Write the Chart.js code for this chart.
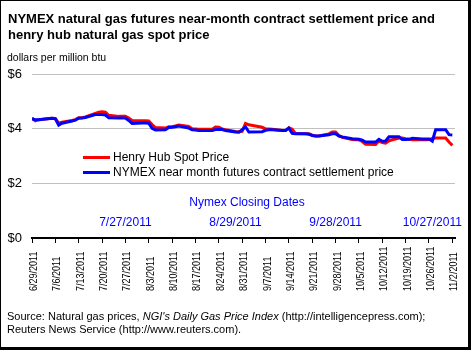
<!DOCTYPE html>
<html>
<head>
<meta charset="utf-8">
<title>NYMEX natural gas futures and Henry Hub spot price</title>
<script src="https://cdn.jsdelivr.net/npm/chart.js@4.4.1/dist/chart.umd.min.js"></script>
<style>
    html, body { margin: 0; padding: 0; background: #ffffff; }
    .wrap { position: relative; width: 471px; height: 350px; }
    .wrap canvas { position: absolute; left: 0; top: 0; }
    .frame {
        position: absolute; left: 0; top: 0; width: 471px; height: 350px;
        box-sizing: border-box; border: solid #000; border-width: 1px 3px 3px 1px;
        pointer-events: none;
    }
</style>
</head>
<body>
<div class="wrap">
    <canvas id="gaschart" width="471" height="350"></canvas>
    <div class="frame"></div>
</div>
<script>
"use strict";

/* trading days, 2011 */
var tradeDates = [
    '6/29', '6/30', '7/1',
    '7/5', '7/6', '7/7', '7/8',
    '7/11', '7/12', '7/13', '7/14', '7/15',
    '7/18', '7/19', '7/20', '7/21', '7/22',
    '7/25', '7/26', '7/27', '7/28', '7/29',
    '8/1', '8/2', '8/3', '8/4', '8/5',
    '8/8', '8/9', '8/10', '8/11', '8/12',
    '8/15', '8/16', '8/17', '8/18', '8/19',
    '8/22', '8/23', '8/24', '8/25', '8/26',
    '8/29', '8/30', '8/31', '9/1', '9/2',
    '9/6', '9/7', '9/8', '9/9',
    '9/12', '9/13', '9/14', '9/15', '9/16',
    '9/19', '9/20', '9/21', '9/22', '9/23',
    '9/26', '9/27', '9/28', '9/29', '9/30',
    '10/3', '10/4', '10/5', '10/6', '10/7',
    '10/10', '10/11', '10/12', '10/13', '10/14',
    '10/17', '10/18', '10/19', '10/20', '10/21',
    '10/24', '10/25', '10/26', '10/27', '10/28',
    '10/31', '11/1', '11/2'
];

/* Henry Hub spot, $/MMBtu */
var henryHub = [
    4.39, 4.29, 4.33,
    4.38, 4.37, 4.20, 4.24,
    4.30, 4.33, 4.40, 4.40, 4.43,
    4.56, 4.60, 4.62, 4.60, 4.49,
    4.45, 4.45, 4.45, 4.39, 4.30,
    4.29, 4.29, 4.28, 4.15, 4.04,
    4.02, 4.07, 4.07, 4.10, 4.13,
    4.08, 4.00, 3.99, 3.98, 3.98,
    3.98, 4.06, 4.05, 3.99, 3.96,
    3.90, 3.89, 3.90, 4.19, 4.14,
    4.05, 3.99, 3.99, 3.98,
    3.93, 3.93, 4.03, 3.98, 3.82,
    3.81, 3.81, 3.76, 3.73, 3.73,
    3.81, 3.88, 3.88, 3.75, 3.68,
    3.60, 3.59, 3.59, 3.53, 3.43,
    3.42, 3.55, 3.49, 3.47, 3.56,
    3.66, 3.66, 3.63, 3.61, 3.59,
    3.59, 3.59, 3.60, 3.64, 3.66,
    3.66, 3.51, 3.39
];

/* NYMEX near-month settlement, $/MMBtu */
var nymexNear = [
    4.35, 4.33, 4.33,
    4.38, 4.36, 4.13, 4.20,
    4.28, 4.31, 4.38, 4.39, 4.41,
    4.52, 4.52, 4.52, 4.50, 4.40,
    4.39, 4.39, 4.39, 4.30, 4.19,
    4.21, 4.21, 4.20, 4.01, 3.95,
    3.96, 4.04, 4.05, 4.07, 4.10,
    4.02, 3.96, 3.95, 3.93, 3.93,
    3.93, 3.97, 3.97, 3.97, 3.93,
    3.88, 3.87, 3.96, 4.07, 3.88,
    3.89, 3.94, 3.96, 3.96,
    3.93, 3.93, 4.02, 3.83, 3.81,
    3.81, 3.80, 3.75, 3.73, 3.73,
    3.78, 3.81, 3.81, 3.73, 3.70,
    3.63, 3.62, 3.61, 3.58, 3.51,
    3.51, 3.61, 3.54, 3.55, 3.70,
    3.70, 3.60, 3.60, 3.61, 3.65,
    3.62, 3.62, 3.62, 3.54, 3.96,
    3.96, 3.78, 3.77
];

var weekLabels = [
    '6/29/2011', '7/6/2011', '7/13/2011', '7/20/2011', '7/27/2011',
    '8/3/2011', '8/10/2011', '8/17/2011', '8/24/2011', '8/31/2011',
    '9/7/2011', '9/14/2011', '9/21/2011', '9/28/2011', '10/5/2011',
    '10/12/2011', '10/19/2011', '10/26/2011', '11/2/2011'
];
var closingDates = ['7/27/2011', '8/29/2011', '9/28/2011', '10/27/2011'];
var seriesNames = ['Henry Hub Spot Price', 'NYMEX near month futures contract settlement price'];

var fontFamily = '"Liberation Sans", Arial, sans-serif';

/* days since 6/29/2011 */
function dayOf(label) {
    var p = label.split('/');
    var year = p[2] ? +p[2] : 2011;
    return (Date.UTC(year, p[0] - 1, +p[1]) - Date.UTC(2011, 5, 29)) / 86400000;
}

function points(values) {
    return values.map(function (v, i) {
        return { x: dayOf(tradeDates[i]), y: v };
    });
}

/* titles, legend in the plot, closing dates, rotated dates, source */
var gasText = {
    id: 'gasText',
    afterDraw: function (chart) {
        var ctx = chart.ctx;
        var xs = chart.scales.x;
        ctx.save();

        ctx.fillStyle = '#000';
        ctx.textAlign = 'left';
        ctx.textBaseline = 'alphabetic';
        ctx.font = 'bold 13px ' + fontFamily;
        ctx.fillText('NYMEX natural gas futures near-month contract settlement price and', 8, 23);
        ctx.fillText('henry hub natural gas spot price', 8, 38.5);
        ctx.font = '10.5px ' + fontFamily;
        ctx.fillText('dollars per million btu', 7, 60.5);

        /* legend */
        ctx.textBaseline = 'middle';
        ctx.font = '12px ' + fontFamily;
        var colors = ['#ff0000', '#0000ff'];
        var rows = [157.5, 172.5];
        for (var i = 0; i < 2; i++) {
            ctx.strokeStyle = colors[i];
            ctx.lineWidth = 3;
            ctx.beginPath();
            ctx.moveTo(83, rows[i]);
            ctx.lineTo(110, rows[i]);
            ctx.stroke();
            ctx.fillStyle = '#000';
            ctx.fillText(seriesNames[i], 113, rows[i]);
        }

        /* nymex closing dates */
        ctx.fillStyle = '#0000ff';
        ctx.textAlign = 'center';
        ctx.fillText('Nymex Closing Dates', 247, 203);
        closingDates.forEach(function (d) {
            ctx.fillText(d, xs.getPixelForValue(dayOf(d)), 223);
        });

        /* week labels, read bottom to top, a little condensed */
        ctx.fillStyle = '#000';
        ctx.textAlign = 'left';
        ctx.font = '11px ' + fontFamily;
        weekLabels.forEach(function (l) {
            ctx.save();
            ctx.translate(xs.getPixelForValue(dayOf(l)) + 2, 291);
            ctx.rotate(-Math.PI / 2);
            ctx.scale(0.82, 1);
            ctx.fillText(l, 0, 0);
            ctx.restore();
        });

        /* source */
        ctx.font = '11px ' + fontFamily;
        var x = 7;
        var part = 'Source: Natural gas prices, ';
        ctx.fillText(part, x, 316.5);
        x += ctx.measureText(part).width;
        ctx.font = 'italic 11px ' + fontFamily;
        part = "NGI's Daily Gas Price Index";
        ctx.fillText(part, x, 316.5);
        x += ctx.measureText(part).width;
        ctx.font = '11px ' + fontFamily;
        ctx.fillText(' (http://intelligencepress.com);', x, 316.5);
        ctx.fillText('Reuters News Service (http://www.reuters.com).', 7, 330);

        ctx.restore();
    }
};

document.addEventListener("DOMContentLoaded", function () {
    var gasCanvas = document.getElementById('gaschart').getContext('2d');

    var gasChartConfig = {
        type: 'line',
        data: {
            datasets: [{
                label: seriesNames[0],
                data: points(henryHub),
                borderColor: '#ff0000',
                borderWidth: 3,
                pointRadius: 0,
                fill: false,
                tension: 0,
                order: 2,
            },
            {
                label: seriesNames[1],
                data: points(nymexNear),
                borderColor: '#0000ff',
                borderWidth: 3,
                pointRadius: 0,
                fill: false,
                tension: 0,
                order: 1,
            }]
        },
        options: {
            responsive: false,
            animation: false,
            layout: {
                padding: { left: 0, right: 16, top: 74, bottom: 52 }
            },
            plugins: {
                legend: { display: false },
                tooltip: { enabled: false },
            },
            scales: {
                x: {
                    type: 'linear',
                    min: 0,
                    max: 126.8,
                    afterBuildTicks: function (scale) {
                        scale.ticks = weekLabels.map(function (l) {
                            return { value: dayOf(l) };
                        });
                    },
                    afterFit: function (scale) {
                        scale.height = 60;
                    },
                    grid: {
                        drawOnChartArea: false,
                        color: '#000',
                        lineWidth: 1,
                        tickLength: 5,
                    },
                    border: { display: true, color: '#000', width: 2 },
                    ticks: { display: false },
                },
                y: {
                    min: 0,
                    max: 6,
                    afterFit: function (scale) {
                        scale.width = 32;
                    },
                    grid: {
                        color: '#c0c0c0',
                        lineWidth: 1,
                        drawTicks: false,
                    },
                    border: { display: false },
                    ticks: {
                        stepSize: 2,
                        padding: 10,
                        color: '#000',
                        font: { family: fontFamily, size: 13 },
                        callback: function (v) {
                            return '$' + v;
                        }
                    }
                }
            }
        },
        plugins: [gasText]
    };
    var gasChart = new Chart(gasCanvas, gasChartConfig);
});
</script>
</body>
</html>
